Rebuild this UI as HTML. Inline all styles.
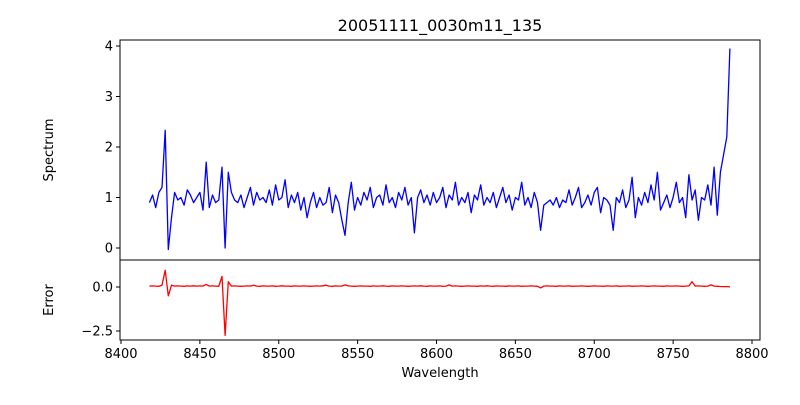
<!DOCTYPE html>
<html><head><meta charset="utf-8"><style>
body{margin:0;background:#fff}
svg{font-family:"DejaVu Sans","Liberation Sans",sans-serif}
</style></head><body>
<svg width="800" height="400" id="chart">
<text x="440" y="31" font-size="16" text-anchor="middle">20051111_0030m11_135</text>
<text x="53" y="150" font-size="13" text-anchor="middle" transform="rotate(-90 53 150)">Spectrum</text>
<text x="53" y="300" font-size="13" text-anchor="middle" transform="rotate(-90 53 300)">Error</text>
<text x="440" y="377" font-size="13" text-anchor="middle">Wavelength</text>
<g id="plot"></g>
</svg>
<script>
const wlStart = 8418, wlStep = 2;
const spectrum = [
0.9,1.05,0.8,1.1,1.2,2.33,-0.03,0.6,1.1,0.95,
1.0,0.85,1.15,1.05,0.9,1.0,1.1,0.75,1.7,0.8,
1.05,0.9,0.95,1.6,0.0,1.5,1.1,0.95,0.9,1.05,
0.8,1.0,1.2,0.85,1.1,0.95,1.0,0.9,1.15,0.85,
1.25,0.95,1.0,1.35,0.8,1.05,0.9,1.1,0.75,1.0,
0.6,0.9,1.1,0.8,1.0,0.85,0.9,1.2,0.7,1.05,
0.9,0.55,0.25,0.9,1.3,0.75,1.0,0.85,1.1,0.95,
1.2,0.8,1.0,1.05,0.85,1.25,0.9,1.0,0.8,1.1,
0.95,1.2,0.85,1.0,0.3,1.0,1.15,0.9,1.05,0.85,
1.1,0.9,1.0,1.2,0.8,1.05,0.95,1.3,0.85,1.0,
0.9,1.1,0.7,1.05,0.95,1.25,0.85,1.0,0.9,1.1,
0.8,1.0,1.2,0.9,1.05,0.75,1.0,0.95,1.3,0.85,
1.0,0.8,1.1,0.9,0.35,0.85,0.9,0.95,0.85,1.0,
0.8,0.95,0.9,1.15,0.85,1.0,1.2,0.8,0.9,1.05,
0.85,1.1,1.2,0.7,1.0,0.95,0.85,0.35,1.0,0.9,
1.15,0.8,0.95,1.4,0.6,1.0,0.85,1.1,0.9,1.25,
0.95,1.5,0.75,0.9,1.05,0.8,1.0,1.3,0.9,1.0,
0.6,1.45,0.95,1.15,0.55,1.0,0.95,1.25,0.85,1.6,
0.65,1.5,1.85,2.2,3.95];
const errors = [
0.05,0.06,0.05,0.04,0.1,0.95,-0.5,0.1,0.05,0.06,
0.05,0.04,0.06,0.05,0.07,0.05,0.06,0.05,0.15,0.05,
0.06,0.05,0.04,0.6,-2.75,0.3,0.05,0.06,0.05,0.04,
0.05,0.06,0.05,0.1,0.05,0.04,0.06,0.05,0.05,0.06,
0.04,0.05,0.07,0.05,0.05,0.04,0.06,0.05,0.05,0.06,
0.05,0.04,0.05,0.06,0.05,0.07,0.1,0.05,0.04,0.06,
0.05,0.05,0.12,0.06,0.05,0.04,0.05,0.06,0.05,0.05,
0.04,0.06,0.05,0.05,0.07,0.05,0.04,0.06,0.05,0.05,
0.06,0.05,0.04,0.05,0.06,0.05,0.07,0.05,0.04,0.06,
0.05,0.05,0.06,0.04,0.05,0.12,0.05,0.06,0.05,0.04,
0.05,0.06,0.05,0.05,0.04,0.06,0.05,0.07,0.05,0.04,
0.06,0.05,0.05,0.04,0.06,0.05,0.05,0.06,0.04,0.05,
0.05,0.06,0.05,0.04,-0.05,0.05,0.06,0.05,0.05,0.04,
0.06,0.05,0.05,0.06,0.04,0.05,0.05,0.06,0.05,0.04,
0.05,0.06,0.05,0.05,0.04,0.06,0.05,0.05,0.06,0.04,
0.05,0.05,0.06,0.04,0.05,0.05,0.06,0.05,0.04,0.05,
0.06,0.05,0.05,0.04,0.06,0.05,0.05,0.06,0.05,0.04,
0.05,0.06,0.3,0.05,0.06,0.05,0.04,0.05,0.12,0.05,
0.04,0.03,0.02,0.02,0.01];
const xTicks = [8400,8450,8500,8550,8600,8650,8700,8750,8800];
const specTicks = [0,1,2,3,4];
const errTicks = [0.0,-2.5];
const errTickLabels = ["0.0","−2.5"];

const NS = "http://www.w3.org/2000/svg";
const plot = document.getElementById('plot');
const L = 120, R = 760, T1 = 40, B1 = 260, T2 = 260, B2 = 340;
const xS = w => 121 + (w - 8400) * 1.5775;
const y1 = v => 248 - v * 50.5;
const y2 = v => 287 - v * 17.6;
function mk(tag, attrs){const e=document.createElementNS(NS,tag);for(const k in attrs)e.setAttribute(k,attrs[k]);plot.appendChild(e);return e;}

function line(arr, ys, color, name){
  const d = arr.map((v,i)=>(i?'L':'M')+xS(wlStart+i*wlStep).toFixed(1)+' '+ys(v).toFixed(1)).join(' ');
  const p = mk('path',{d:d,fill:'none',stroke:color,'stroke-width':1.3,'stroke-linejoin':'round'});
  
  
}
line(spectrum, y1, '#0000ff', 'spectrum-line');
line(errors, y2, '#ff0000', 'error-line');

const f1 = mk('rect',{x:L,y:T1,width:R-L,height:B1-T1,fill:'none',stroke:'#000','stroke-width':1});


const f2 = mk('rect',{x:L,y:T2,width:R-L,height:B2-T2,fill:'none',stroke:'#000','stroke-width':1});



xTicks.forEach(t=>{
  const x = xS(t);
  mk('line',{x1:x,x2:x,y1:B2,y2:B2+4,stroke:'#000'});
  const tx = mk('text',{x:x,y:B2+18,'font-size':13,'text-anchor':'middle'});
  tx.textContent = t;
  
  
});
specTicks.forEach(t=>{
  const y = y1(t);
  mk('line',{x1:L-4,x2:L,y1:y,y2:y,stroke:'#000'});
  const tx = mk('text',{x:L-7,y:y+4.5,'font-size':13,'text-anchor':'end'});
  tx.textContent = t;
  
  
});
errTicks.forEach((t,i)=>{
  const y = y2(t);
  mk('line',{x1:L-4,x2:L,y1:y,y2:y,stroke:'#000'});
  const tx = mk('text',{x:L-7,y:y+4.5,'font-size':13,'text-anchor':'end'});
  tx.textContent = errTickLabels[i];
  
  
});
</script>
</body></html>
